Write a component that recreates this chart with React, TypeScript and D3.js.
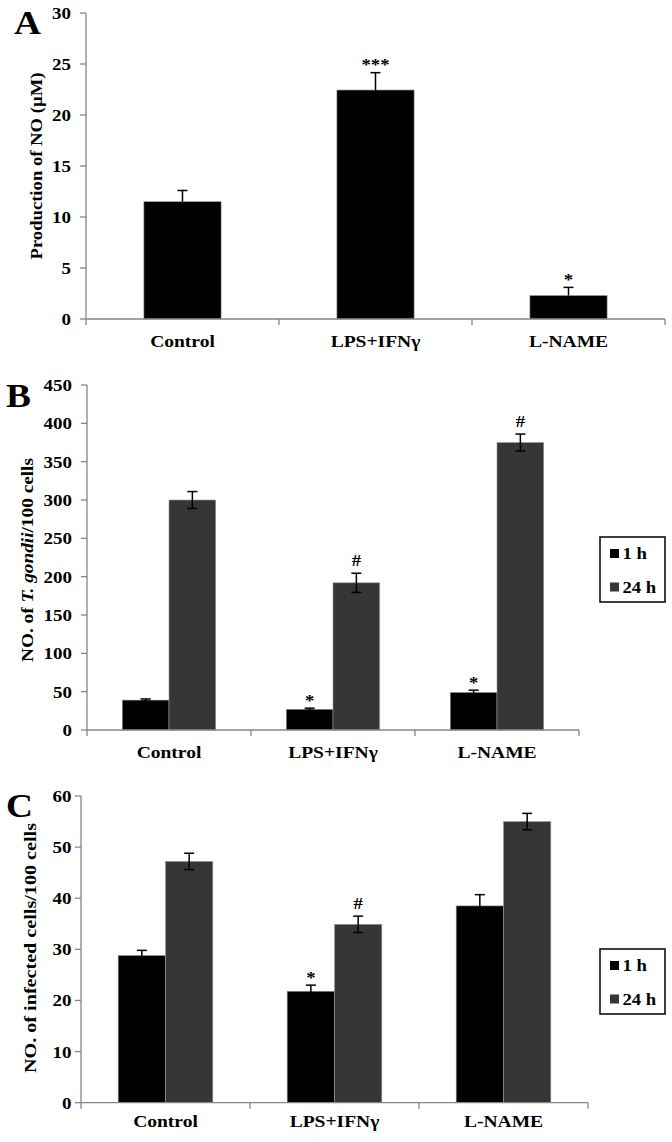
import React from "react";
import * as d3 from "d3";

// ---------- Data ----------
const categories = ["Control", "LPS+IFNγ", "L-NAME"];

// Panel A: NO production (µM)
const noValues = [11.5, 22.45, 2.3];
const noErrors = [1.1, 1.7, 0.8];
const noMarks = ["", "***", "*"];
const noTicks = [0, 5, 10, 15, 20, 25, 30];

// Panel B: T. gondii per 100 cells
const seriesNames = ["1 h", "24 h"];
const tg1h = [39, 27, 49];
const tg1hErr = [1.5, 1.5, 3];
const tg1hMarks = ["", "*", "*"];
const tg24h = [300, 192, 375];
const tg24hErr = [11, 12.5, 11];
const tg24hMarks = ["", "#", "#"];
const tgTicks = [0, 50, 100, 150, 200, 250, 300, 350, 400, 450];

// Panel C: infected cells per 100 cells
const inf1h = [28.8, 21.8, 38.5];
const inf1hErr = [1, 1.2, 2.2];
const inf1hMarks = ["", "*", ""];
const inf24h = [47.2, 34.9, 55];
const inf24hErr = [1.6, 1.6, 1.6];
const inf24hMarks = ["", "#", ""];
const infTicks = [0, 10, 20, 30, 40, 50, 60];

// ---------- Styles ----------
const FONT = "'Liberation Serif', 'Times New Roman', serif";
const AXIS = "#868686";
const COLORS = ["#000000", "#363636"];

type Series = { name: string; values: number[]; errors: number[]; marks: string[]; plusOnly?: boolean };

type PanelProps = {
  letter: string;
  letterPos: [number, number];
  x0: number;
  x1: number;
  yTop: number;
  yBottom: number;
  ticks: number[];
  series: Series[];
  paddingInner: number;
  paddingOuter: number;
  groupPadding: number;
  title: React.ReactNode;
  titleX: number;
  titleY: number;
  titleLen: number;
  catLabelY: number;
  tickLabelEnd: number;
  legend?: { x: number; y: number; w: number; h: number };
};

function SText(props: {
  x: number;
  y: number;
  sx?: number;
  size: number;
  anchor?: string;
  children: React.ReactNode;
}) {
  const { x, y, sx = 1.12, size, anchor = "middle", children } = props;
  return (
    <text
      transform={`translate(${x},${y}) scale(${sx},1)`}
      textAnchor={anchor}
      fontFamily={FONT}
      fontWeight="bold"
      fontSize={size}
      fill="#000"
    >
      {children}
    </text>
  );
}

function Panel(p: PanelProps) {
  const yMax = p.ticks[p.ticks.length - 1];
  const y = d3.scaleLinear().domain([0, yMax]).range([p.yBottom, p.yTop]);
  const xBand = d3
    .scaleBand<string>()
    .domain(categories)
    .range([p.x0, p.x1])
    .paddingInner(p.paddingInner)
    .paddingOuter(p.paddingOuter);
  const sub = d3
    .scaleBand<string>()
    .domain(p.series.map((s) => s.name))
    .range([0, xBand.bandwidth()])
    .padding(0);
  const step = (p.x1 - p.x0) / categories.length;
  const boundaries = d3.range(categories.length + 1).map((i) => p.x0 + i * step);

  return (
    <g>
      {/* panel letter */}
      <SText x={p.letterPos[0]} y={p.letterPos[1]} size={34} sx={1.1} anchor="start">
        {p.letter}
      </SText>

      {/* bars */}
      {p.series.map((s, si) =>
        categories.map((c, ci) => {
          const bx = (xBand(c) as number) + (sub(s.name) as number);
          const bw = sub.bandwidth();
          const top = y(s.values[ci]);
          return (
            <rect
              key={`b${si}-${ci}`}
              x={bx}
              y={top}
              width={bw}
              height={p.yBottom - top}
              fill={COLORS[si]}
              stroke="#9a9a9a"
              strokeWidth={0.6}
            />
          );
        })
      )}

      {/* error bars and marks */}
      {p.series.map((s, si) =>
        categories.map((c, ci) => {
          const cx = (xBand(c) as number) + (sub(s.name) as number) + sub.bandwidth() / 2;
          const hi = y(s.values[ci] + s.errors[ci]);
          const lo = s.plusOnly ? y(s.values[ci]) : y(s.values[ci] - s.errors[ci]);
          const mark = s.marks[ci];
          const markY = mark.startsWith("#") ? hi - 7 : hi - 2.5;
          return (
            <g key={`e${si}-${ci}`}>
              <line x1={cx} x2={cx} y1={hi} y2={lo} stroke="#000" strokeWidth={1.5} />
              <line x1={cx - 5} x2={cx + 5} y1={hi} y2={hi} stroke="#000" strokeWidth={1.5} />
              {!s.plusOnly && (
                <line x1={cx - 5} x2={cx + 5} y1={lo} y2={lo} stroke="#000" strokeWidth={1.5} />
              )}
              {mark && (
                <SText x={cx} y={markY} size={17} sx={1.1}>
                  {mark}
                </SText>
              )}
            </g>
          );
        })
      )}

      {/* y axis */}
      <line x1={p.x0} x2={p.x0} y1={p.yTop} y2={p.yBottom} stroke={AXIS} strokeWidth={1.3} />
      {p.ticks.map((t) => (
        <g key={`t${t}`}>
          <line x1={p.x0 - 6} x2={p.x0} y1={y(t)} y2={y(t)} stroke={AXIS} strokeWidth={1.3} />
          <SText x={p.tickLabelEnd} y={y(t) + 6} size={17} anchor="end">
            {String(t)}
          </SText>
        </g>
      ))}

      {/* x axis */}
      <line x1={p.x0} x2={p.x1} y1={p.yBottom} y2={p.yBottom} stroke={AXIS} strokeWidth={1.3} />
      {boundaries.map((bx, i) => (
        <line key={`xb${i}`} x1={bx} x2={bx} y1={p.yBottom} y2={p.yBottom + 6} stroke={AXIS} strokeWidth={1.3} />
      ))}
      {categories.map((c) => (
        <SText key={`c${c}`} x={(xBand(c) as number) + xBand.bandwidth() / 2} y={p.catLabelY} size={17} sx={1.15}>
          {c}
        </SText>
      ))}

      {/* y title */}
      <text
        transform={`translate(${p.titleX},${p.titleY}) rotate(-90)`}
        textAnchor="middle"
        fontFamily={FONT}
        fontWeight="bold"
        fontSize={16.5}
        textLength={p.titleLen}
        lengthAdjust="spacingAndGlyphs"
        dominantBaseline="central"
      >
        {p.title}
      </text>

      {/* legend */}
      {p.legend && (
        <g>
          <rect
            x={p.legend.x}
            y={p.legend.y}
            width={p.legend.w}
            height={p.legend.h}
            fill="#fff"
            stroke="#000"
            strokeWidth={1.5}
          />
          {p.series.map((s, si) => {
            const ly = p.legend!.y + 12 + si * 33.5;
            return (
              <g key={`l${si}`}>
                <rect x={p.legend!.x + 10} y={ly} width={9} height={9} fill={COLORS[si]} />
                <SText x={p.legend!.x + 22.5} y={ly + 10} size={17} sx={1.1} anchor="start">
                  {s.name}
                </SText>
              </g>
            );
          })}
        </g>
      )}
    </g>
  );
}

export default function App() {
  return (
    <svg
      width={672}
      height={1142}
      style={{ position: "absolute", left: 0, top: 0, background: "#fff" }}
    >
      <rect x={0} y={0} width={672} height={1142} fill="#fff" />
      <Panel
        letter="A"
        letterPos={[14, 34]}
        x0={86}
        x1={665}
        yTop={13}
        yBottom={319}
        ticks={noTicks}
        series={[{ name: "NO", values: noValues, errors: noErrors, marks: noMarks, plusOnly: true }]}
        paddingInner={0.6}
        paddingOuter={0.3}
        groupPadding={0}
        title={"Production  of NO (µM)"}
        titleX={36}
        titleY={166}
        titleLen={187}
        catLabelY={346.5}
        tickLabelEnd={71}
      />
      <Panel
        letter="B"
        letterPos={[6, 407]}
        x0={87}
        x1={579}
        yTop={385}
        yBottom={730}
        ticks={tgTicks}
        series={[
          { name: seriesNames[0], values: tg1h, errors: tg1hErr, marks: tg1hMarks },
          { name: seriesNames[1], values: tg24h, errors: tg24hErr, marks: tg24hMarks },
        ]}
        paddingInner={0.43}
        paddingOuter={0.215}
        groupPadding={0}
        title={
          <>
            <tspan>NO. of </tspan>
            <tspan fontStyle="italic">T. gondii</tspan>
            <tspan>/100 cells</tspan>
          </>
        }
        titleX={27}
        titleY={560}
        titleLen={204}
        catLabelY={758}
        tickLabelEnd={72}
        legend={{ x: 600, y: 537, w: 65, h: 65 }}
      />
      <Panel
        letter="C"
        letterPos={[6, 817]}
        x0={81}
        x1={588}
        yTop={796}
        yBottom={1102.7}
        ticks={infTicks}
        series={[
          { name: seriesNames[0], values: inf1h, errors: inf1hErr, marks: inf1hMarks },
          { name: seriesNames[1], values: inf24h, errors: inf24hErr, marks: inf24hMarks },
        ]}
        paddingInner={0.44}
        paddingOuter={0.22}
        groupPadding={0}
        title={"NO. of infected cells/100 cells"}
        titleX={30}
        titleY={948}
        titleLen={250}
        catLabelY={1126.5}
        tickLabelEnd={71.5}
        legend={{ x: 600, y: 949, w: 65, h: 65 }}
      />
    </svg>
  );
}
